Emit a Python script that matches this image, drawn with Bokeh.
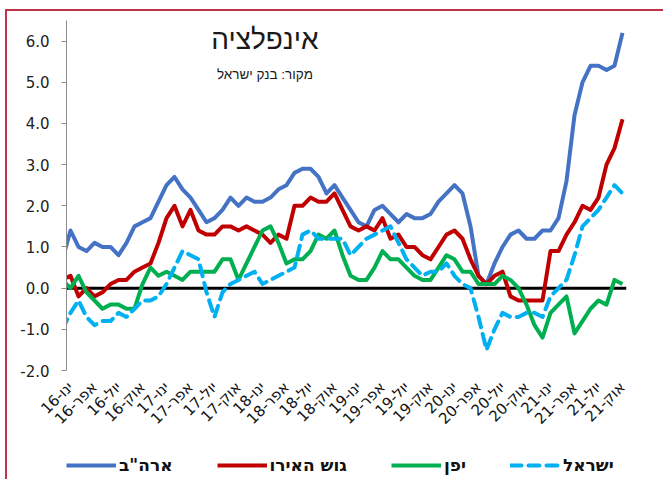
import math
from bokeh.plotting import figure
from bokeh.layouts import column
from bokeh.models import Span, Label, Legend, LegendItem, FixedTicker, NumeralTickFormatter, Range1d
from bokeh.embed import file_html
from bokeh.resources import INLINE

# month index: -1 = Dec-15, 0 = Jan-16 ... 69 = Oct-21
month_index = list(range(-1, 70))

usa = [0.7,
       1.4, 1.0, 0.9, 1.1, 1.0, 1.0, 0.8, 1.1, 1.5, 1.6, 1.7, 2.1,
       2.5, 2.7, 2.4, 2.2, 1.9, 1.6, 1.7, 1.9, 2.2, 2.0, 2.2, 2.1,
       2.1, 2.2, 2.4, 2.5, 2.8, 2.9, 2.9, 2.7, 2.3, 2.5, 2.2, 1.9,
       1.6, 1.5, 1.9, 2.0, 1.8, 1.6, 1.8, 1.7, 1.7, 1.8, 2.1, 2.3,
       2.5, 2.3, 1.5, 0.3, 0.1, 0.6, 1.0, 1.3, 1.4, 1.2, 1.2, 1.4,
       1.4, 1.7, 2.6, 4.2, 5.0, 5.4, 5.4, 5.3, 5.4, 6.2]

euro = [0.2,
        0.3, -0.2, 0.0, -0.2, -0.1, 0.1, 0.2, 0.2, 0.4, 0.5, 0.6, 1.1,
        1.7, 2.0, 1.5, 1.9, 1.4, 1.3, 1.3, 1.5, 1.5, 1.4, 1.5, 1.4,
        1.3, 1.1, 1.3, 1.2, 2.0, 2.0, 2.2, 2.1, 2.1, 2.3, 1.9, 1.5,
        1.4, 1.5, 1.4, 1.7, 1.2, 1.3, 1.0, 1.0, 0.8, 0.7, 1.0, 1.3,
        1.4, 1.2, 0.7, 0.3, 0.1, 0.3, 0.4, -0.2, -0.3, -0.3, -0.3, -0.3,
        0.9, 0.9, 1.3, 1.6, 2.0, 1.9, 2.2, 3.0, 3.4, 4.1]

japan = [0.2,
         0.0, 0.3, -0.1, -0.3, -0.5, -0.4, -0.4, -0.5, -0.5, 0.1, 0.5, 0.3,
         0.4, 0.3, 0.2, 0.4, 0.4, 0.4, 0.4, 0.7, 0.7, 0.2, 0.6, 1.0,
         1.4, 1.5, 1.1, 0.6, 0.7, 0.7, 0.9, 1.3, 1.2, 1.4, 0.8, 0.3,
         0.2, 0.2, 0.5, 0.9, 0.7, 0.7, 0.5, 0.3, 0.2, 0.2, 0.5, 0.8,
         0.7, 0.4, 0.4, 0.1, 0.1, 0.1, 0.3, 0.2, 0.0, -0.4, -0.9, -1.2,
         -0.6, -0.4, -0.2, -1.1, -0.8, -0.5, -0.3, -0.4, 0.2, 0.1]

israel = [-1.0,
          -0.6, -0.3, -0.7, -0.9, -0.8, -0.8, -0.6, -0.7, -0.5, -0.3, -0.3, -0.2,
          0.1, 0.5, 0.9, 0.8, 0.7, -0.1, -0.7, -0.1, 0.1, 0.2, 0.3, 0.4,
          0.1, 0.2, 0.3, 0.4, 0.5, 1.3, 1.4, 1.2, 1.2, 1.2, 1.2, 0.8,
          1.0, 1.2, 1.3, 1.4, 1.5, 1.1, 0.7, 0.5, 0.3, 0.4, 0.4, 0.6,
          0.3, 0.1, 0.0, -0.7, -1.5, -1.0, -0.6, -0.7, -0.7, -0.6, -0.6, -0.7,
          -0.2, 0.0, 0.2, 0.8, 1.5, 1.7, 1.9, 2.2, 2.5, 2.3]

tick_positions = list(range(0, 70, 3))
tick_labels = ["ינו-16", "אפר-16", "יול-16", "אוק-16",
               "ינו-17", "אפר-17", "יול-17", "אוק-17",
               "ינו-18", "אפר-18", "יול-18", "אוק-18",
               "ינו-19", "אפר-19", "יול-19", "אוק-19",
               "ינו-20", "אפר-20", "יול-20", "אוק-20",
               "ינו-21", "אפר-21", "יול-21", "אוק-21"]

series_names = ['ארה"ב', "גוש האירו", "יפן", "ישראל"]
series_colors = ["#4472C4", "#C00000", "#00B050", "#00B0F0"]
series_dash = ["solid", "solid", "solid", "11 7"]

# ---------------- main chart ----------------
p = figure(width=656, height=432,
           x_range=Range1d(-0.5, 69.5), y_range=Range1d(-2, 6.5),
           output_backend="svg", toolbar_location=None,
           min_border_left=59, min_border_top=9, min_border_right=37,
           min_border_bottom=73)
p.outline_line_color = None
p.xgrid.visible = False
p.ygrid.visible = False
p.background_fill_color = "white"
p.border_fill_color = "white"

zero = Span(location=0, dimension="width", line_color="black", line_width=3, level="underlay")
p.add_layout(zero)

for vals, col, dash in zip([usa, euro, japan, israel], series_colors, series_dash):
    p.line(month_index, vals, line_color=col, line_width=4, line_dash=dash,
           line_cap="round" if dash != "solid" else "butt", line_join="round")

p.xaxis.ticker = FixedTicker(ticks=tick_positions)
p.xaxis.major_label_overrides = {t: l for t, l in zip(tick_positions, tick_labels)}
p.xaxis.major_label_orientation = math.pi / 4
p.xaxis.axis_line_color = None
p.xaxis.major_tick_line_color = None
p.xaxis.minor_tick_line_color = None
p.xaxis.major_label_text_font = "DejaVu Sans"
p.xaxis.major_label_text_font_size = "15px"
p.xaxis.major_label_text_color = "#111111"
p.xaxis.major_label_standoff = 8

p.yaxis.ticker = FixedTicker(ticks=[-2, -1, 0, 1, 2, 3, 4, 5, 6])
p.yaxis.formatter = NumeralTickFormatter(format="0.0")
p.yaxis.axis_line_color = "#8c8c8c"
p.yaxis.major_tick_line_color = "#8c8c8c"
p.yaxis.major_tick_in = 0
p.yaxis.major_tick_out = 5
p.yaxis.minor_tick_line_color = None
p.yaxis.major_label_standoff = 12
p.yaxis.major_label_text_font = "DejaVu Sans"
p.yaxis.major_label_text_font_size = "15px"
p.yaxis.major_label_text_color = "#222222"

title = Label(x=24.3, y=6.05, text="אינפלציה", text_align="center", text_baseline="middle",
              text_font="Liberation Sans", text_font_size="28px", text_color="#1a1a1a")
sub = Label(x=24.3, y=5.2, text="מקור: בנק ישראל", text_align="center", text_baseline="middle",
            text_font="Liberation Sans", text_font_size="13.5px", text_color="#1a1a1a")
p.add_layout(title)
p.add_layout(sub)

# ---------------- legend strip ----------------
lg = figure(width=656, height=36, x_range=Range1d(0, 1), y_range=Range1d(0, 1),
            output_backend="svg", toolbar_location=None,
            x_axis_location=None, y_axis_location=None,
            min_border_left=0, min_border_right=0, min_border_top=0, min_border_bottom=0)
lg.outline_line_color = None
lg.xgrid.visible = False
lg.ygrid.visible = False
lg.border_fill_color = "white"
items = []
for col, dash, name in zip(series_colors, series_dash, series_names):
    # legend-only renderers: their points lie outside the strip's range
    r = lg.line([5, 6], [5, 6], line_color=col, line_width=4, line_dash=dash,
                line_cap="round" if dash != "solid" else "butt")
    items.append(LegendItem(label=name, renderers=[r]))
legend = Legend(items=items, orientation="horizontal", location=(0, 4),
                glyph_width=50, glyph_height=16, label_standoff=3, spacing=44,
                label_text_font="DejaVu Sans", label_text_font_size="17px",
                label_text_font_style="bold", label_text_color="#111111",
                border_line_color=None, background_fill_alpha=0, padding=0, margin=0)
lg.add_layout(legend, "center")

layout = column(p, lg, spacing=0,
                styles={"transform": "translate(5px, 9px)",
                        "border-left": "2px solid #C0314B", "border-top": "2px solid #C0314B"})

open("out.html", "w").write(file_html(layout, INLINE))
